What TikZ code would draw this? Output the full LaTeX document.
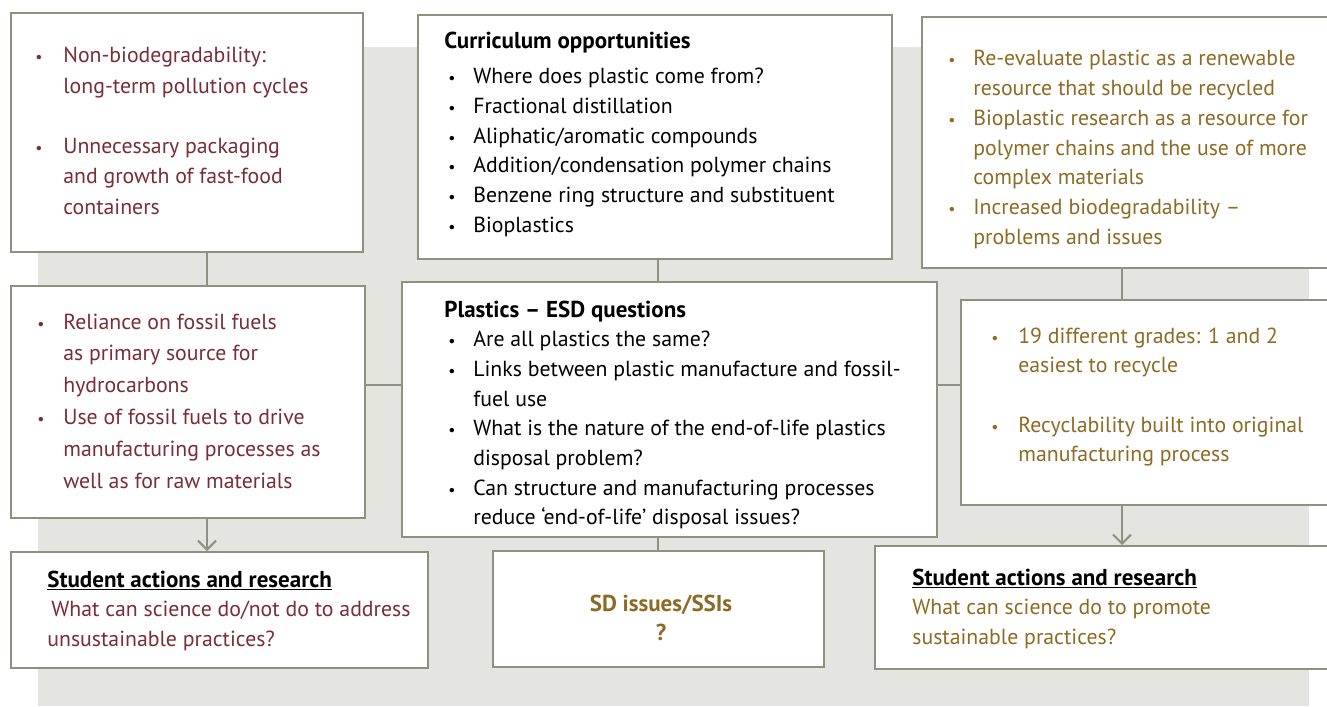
\documentclass[tikz,border=0pt]{standalone}
\usepackage{fontspec}
\setmainfont{PT Sans}
\usepackage{tikz}
\usetikzlibrary{arrows.meta}
\usetikzlibrary{fit}
\usetikzlibrary{positioning}
\definecolor{maroon}{RGB}{122,45,55}
\definecolor{gold}{RGB}{141,107,36}
\definecolor{bggrey}{RGB}{228,229,224}
\definecolor{linegrey}{RGB}{142,144,128}
\newlength\bulhang
\setlength\bulhang{0.5cm}
\newcommand\bul[1]{\par\noindent\hangindent=\bulhang\hangafter=1\makebox[\bulhang][l]{\small\textbullet}#1}
\newcommand\hd[1]{{\fontsize{13.1}{16.9}\selectfont\bfseries #1}}
\tikzset{
    box/.style = {draw=linegrey,line width=0.04cm,fill=white,inner sep=0},
    link/.style = {draw=linegrey,line width=0.04cm},
    flow/.style = {link,-{Straight Barb[length=0.18cm,width=0.36cm]}},
    txt/.style = {inner sep=0,font=\fontsize{12.4}{16.9}\selectfont,anchor=base west}
}
\begin{document}
\begin{tikzpicture}[x=0.02cm,y=-0.02cm]
    \useasboundingbox (0,0) rectangle (1327,706);
    % Background
    \fill[bggrey] (38,47) rectangle (1309,706);
    % Boxes
    \node[box,fit={(11,13) (363,252)}] (tl) {};
    \node[box,fit={(418,15) (892,259)}] (tc) {};
    \node[box,fit={(922,17) (1335,268)}] (tr) {};
    \node[box,fit={(11,286) (365,518)}] (ml) {};
    \node[box,fit={(402,282) (937,537)}] (mc) {};
    \node[box,fit={(961,300) (1335,505)}] (mr) {};
    \node[box,fit={(11,552) (428,668)}] (bl) {};
    \node[box,fit={(493,551) (824,667)}] (bc) {};
    \node[box,fit={(875,546) (1335,669)}] (br) {};
    % Columns and row of the links
    \coordinate (lcol) at (207,0);
    \coordinate (ccol) at (658,0);
    \coordinate (rcol) at (1122,0);
    \coordinate (mrow) at (0,385);
    % Links
    \draw[link] (tl.south -| lcol) -- (ml.north -| lcol);
    \draw[flow] (ml.south -| lcol) -- (bl.north -| lcol);
    \draw[link] (tc.south -| ccol) -- (mc.north -| ccol);
    \draw[link] (mc.south -| ccol) -- (bc.north -| ccol);
    \draw[link] (tr.south -| rcol) -- (mr.north -| rcol);
    \draw[flow] (mr.south -| rcol) -- (br.north -| rcol);
    \draw[link] (ml.east |- mrow) -- (mc.west |- mrow);
    \draw[link] (mc.east |- mrow) -- (mr.west |- mrow);
    % Texts
    \node[txt,text=maroon,font=\fontsize{12.4}{17.2}\selectfont] (tltxt) at (35,63) {\parbox[t]{6.5cm}{%
        \setlength\bulhang{0.56cm}%
        \bul{Non-biodegradability:\\long-term pollution cycles}
        \par\vspace{\baselineskip}
        \bul{Unnecessary packaging\\and growth of fast-food\\containers}}};
    \node[txt] (tctxt) at (444,49) {\parbox[t]{9cm}{%
        \hd{Curriculum opportunities}\par\vspace{0.1cm}
        \hspace*{0.08cm}\parbox[t]{8.8cm}{%
        \bul{Where does plastic come from?}
        \bul{Fractional distillation}
        \bul{Aliphatic/aromatic compounds}
        \bul{Addition/condensation polymer chains}
        \bul{Benzene ring structure and substituent}
        \bul{Bioplastics}}}};
    \node[txt,text=gold] (trtxt) at (948,66) {\parbox[t]{7.6cm}{%
        \bul{Re-evaluate plastic as a renewable\\resource that should be recycled}
        \bul{Bioplastic research as a resource for\\polymer chains and the use of more\\complex materials}
        \bul{Increased biodegradability --\\problems and issues}}};
    \node[txt,text=maroon,font=\fontsize{12.4}{18.2}\selectfont] (mltxt) at (37,329) {\parbox[t]{6.5cm}{%
        \setlength\bulhang{0.52cm}%
        \bul{Reliance on fossil fuels\\as primary source for\\hydrocarbons}
        \bul{Use of fossil fuels to drive\\manufacturing processes as\\well as for raw materials}}};
    \node[txt] (mctxt) at (444,317) {\parbox[t]{9.8cm}{%
        \hd{Plastics -- ESD questions}\par
        \hspace*{0.08cm}\parbox[t]{9.6cm}{%
        \bul{Are all plastics the same?}
        \bul{Links between plastic manufacture and fossil-\\fuel use}
        \bul{What is the nature of the end-of-life plastics\\disposal problem?}
        \bul{Can structure and manufacturing processes\\reduce ‘end-of-life’ disposal issues?}}}};
    \node[txt,text=gold] (mrtxt) at (991,343) {\parbox[t]{6.5cm}{%
        \setlength\bulhang{0.54cm}%
        \bul{19 different grades: 1 and 2\\easiest to recycle}
        \par\vspace{\baselineskip}
        \bul{Recyclability built into original\\manufacturing process}}};
    \node[txt] (bltxt) at (47,587) {\parbox[t]{7.8cm}{%
        \hd{\underline{Student actions and research}}\\
        \textcolor{maroon}{\hspace*{0.08cm}What can science do/not do to address\\unsustainable practices?}}};
    \node[txt,anchor=base,text=gold] (bctxt) at (661,611) {\parbox[t]{6cm}{\centering
        \hd{SD issues/SSIs}\\\hd{?}}};
    \node[txt] (brtxt) at (912,585) {\parbox[t]{7.8cm}{%
        \hd{\underline{Student actions and research}}\\
        \textcolor{gold}{What can science do to promote\\sustainable practices?}}};
\end{tikzpicture}
\end{document}
